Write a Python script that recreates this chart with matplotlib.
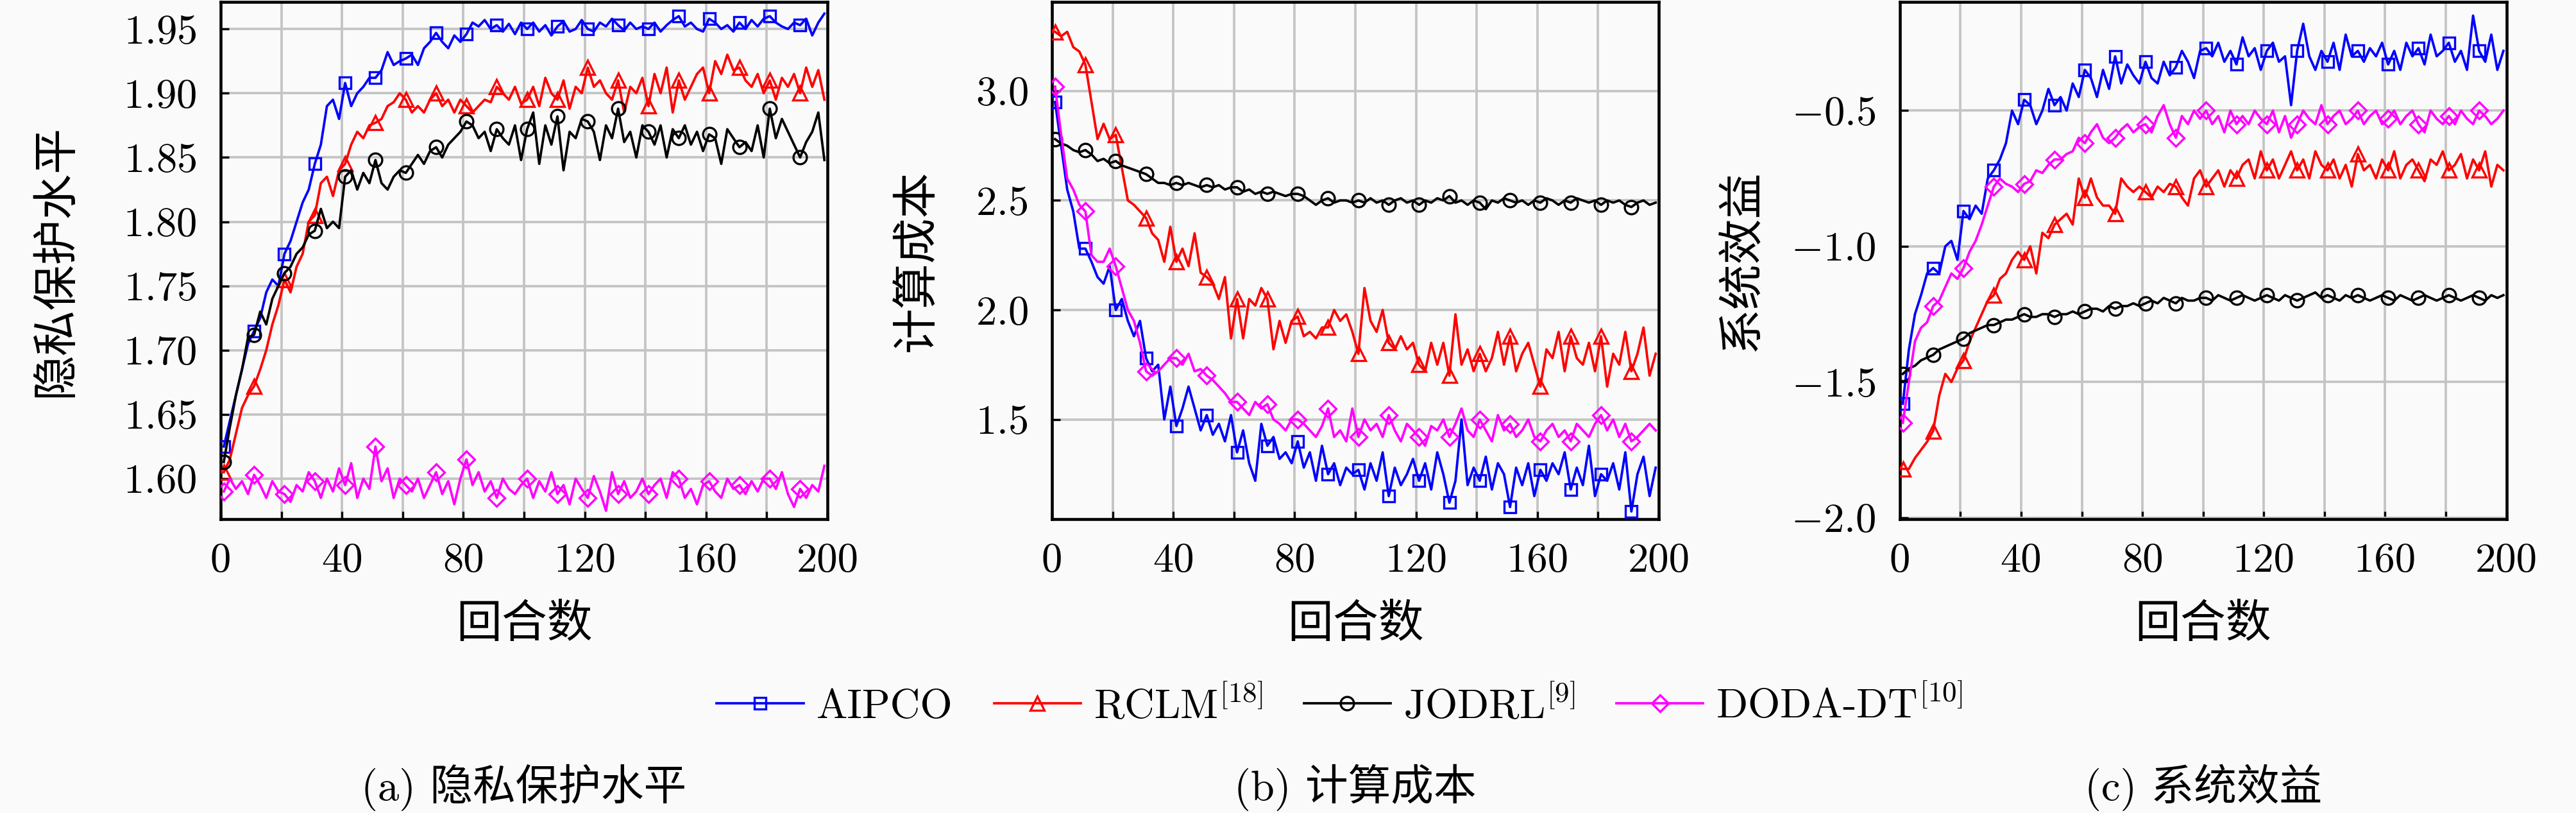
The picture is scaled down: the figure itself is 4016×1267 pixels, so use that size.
import numpy as np
import matplotlib
matplotlib.use("Agg")
import matplotlib.pyplot as plt
from matplotlib.ticker import FuncFormatter, MultipleLocator

plt.rcParams['font.family'] = ['cmr10', 'Noto Sans CJK SC']
plt.rcParams['mathtext.fontset'] = 'cm'
plt.rcParams['axes.formatter.use_mathtext'] = True
plt.rcParams['axes.unicode_minus'] = True

# episodes (every second episode, markers every 10)
episodes = np.arange(1, 201, 2)

methods = ['AIPCO', 'RCLM$^{[18]}$', 'JODRL$^{[9]}$', 'DODA-DT$^{[10]}$']

# (a) privacy protection level
privacy_aipco = [
    1.625, 1.645, 1.665, 1.685, 1.705, 1.715, 1.725, 1.745, 1.755, 1.750,
    1.775, 1.785, 1.800, 1.815, 1.825, 1.845, 1.860, 1.890, 1.895, 1.880,
    1.908, 1.890, 1.900, 1.905, 1.912, 1.912, 1.918, 1.932, 1.922, 1.925,
    1.927, 1.930, 1.922, 1.935, 1.940, 1.947, 1.940, 1.935, 1.945, 1.940,
    1.946, 1.955, 1.952, 1.957, 1.950, 1.953, 1.948, 1.954, 1.946, 1.955,
    1.950, 1.955, 1.948, 1.953, 1.945, 1.952, 1.956, 1.948, 1.950, 1.957,
    1.950, 1.948, 1.955, 1.952, 1.958, 1.953, 1.949, 1.955, 1.950, 1.952,
    1.950, 1.955, 1.948, 1.953, 1.957, 1.960, 1.952, 1.955, 1.950, 1.948,
    1.958, 1.955, 1.950, 1.953, 1.948, 1.955, 1.950, 1.957, 1.952, 1.958,
    1.960, 1.955, 1.952, 1.950, 1.955, 1.953, 1.958, 1.945, 1.955, 1.962]
privacy_rclm = [
    1.605, 1.615, 1.635, 1.655, 1.665, 1.672, 1.685, 1.700, 1.720, 1.735,
    1.755, 1.745, 1.765, 1.775, 1.800, 1.805, 1.830, 1.835, 1.820, 1.840,
    1.845, 1.860, 1.870, 1.865, 1.875, 1.877, 1.880, 1.890, 1.893, 1.900,
    1.895, 1.885, 1.890, 1.885, 1.895, 1.900, 1.890, 1.895, 1.885, 1.895,
    1.890, 1.885, 1.890, 1.895, 1.893, 1.905, 1.900, 1.895, 1.905, 1.892,
    1.895, 1.905, 1.890, 1.912, 1.900, 1.895, 1.910, 1.888, 1.905, 1.900,
    1.920, 1.905, 1.910, 1.900, 1.895, 1.910, 1.885, 1.905, 1.900, 1.912,
    1.890, 1.915, 1.900, 1.920, 1.885, 1.910, 1.895, 1.905, 1.915, 1.920,
    1.900, 1.925, 1.915, 1.930, 1.918, 1.920, 1.910, 1.905, 1.915, 1.900,
    1.910, 1.895, 1.912, 1.905, 1.915, 1.900, 1.920, 1.905, 1.918, 1.895]
privacy_jodrl = [
    1.613, 1.640, 1.665, 1.685, 1.710, 1.712, 1.730, 1.720, 1.740, 1.750,
    1.760, 1.765, 1.775, 1.780, 1.790, 1.793, 1.810, 1.795, 1.800, 1.795,
    1.835, 1.840, 1.825, 1.838, 1.830, 1.848, 1.830, 1.825, 1.835, 1.840,
    1.838, 1.845, 1.852, 1.845, 1.855, 1.858, 1.850, 1.860, 1.865, 1.870,
    1.878, 1.875, 1.865, 1.870, 1.855, 1.872, 1.865, 1.860, 1.875, 1.848,
    1.872, 1.885, 1.845, 1.875, 1.860, 1.882, 1.840, 1.870, 1.865, 1.880,
    1.878, 1.870, 1.848, 1.875, 1.865, 1.888, 1.862, 1.870, 1.850, 1.875,
    1.870, 1.860, 1.875, 1.850, 1.872, 1.865, 1.875, 1.860, 1.870, 1.855,
    1.868, 1.865, 1.845, 1.872, 1.865, 1.858, 1.862, 1.855, 1.875, 1.850,
    1.888, 1.865, 1.880, 1.870, 1.860, 1.850, 1.862, 1.870, 1.885, 1.848]
privacy_doda = [
    1.590, 1.600, 1.592, 1.598, 1.588, 1.603, 1.595, 1.585, 1.598, 1.590,
    1.588, 1.582, 1.595, 1.590, 1.605, 1.598, 1.585, 1.600, 1.590, 1.608,
    1.595, 1.612, 1.585, 1.600, 1.592, 1.625, 1.598, 1.608, 1.585, 1.600,
    1.595, 1.590, 1.600, 1.585, 1.595, 1.605, 1.588, 1.598, 1.580, 1.600,
    1.615, 1.595, 1.605, 1.590, 1.598, 1.585, 1.600, 1.592, 1.588, 1.595,
    1.600, 1.585, 1.598, 1.590, 1.605, 1.588, 1.595, 1.580, 1.600, 1.592,
    1.585, 1.602, 1.590, 1.575, 1.605, 1.588, 1.598, 1.585, 1.590, 1.600,
    1.588, 1.595, 1.600, 1.585, 1.605, 1.600, 1.585, 1.592, 1.580, 1.595,
    1.598, 1.590, 1.585, 1.600, 1.592, 1.595, 1.588, 1.598, 1.590, 1.600,
    1.600, 1.592, 1.605, 1.588, 1.578, 1.592, 1.585, 1.595, 1.590, 1.610]

# (b) computation cost
cost_aipco = [
    2.95, 2.75, 2.55, 2.45, 2.28, 2.28, 2.22, 2.15, 2.12, 2.20,
    2.00, 2.05, 1.95, 1.88, 1.95, 1.78, 1.72, 1.75, 1.50, 1.65,
    1.47, 1.55, 1.65, 1.55, 1.45, 1.52, 1.43, 1.48, 1.40, 1.52,
    1.35, 1.45, 1.30, 1.22, 1.48, 1.38, 1.42, 1.32, 1.35, 1.30,
    1.40, 1.28, 1.35, 1.22, 1.38, 1.25, 1.30, 1.20, 1.28, 1.25,
    1.27, 1.18, 1.30, 1.22, 1.35, 1.15, 1.28, 1.20, 1.25, 1.32,
    1.22, 1.30, 1.18, 1.35, 1.25, 1.12, 1.22, 1.50, 1.20, 1.28,
    1.22, 1.33, 1.18, 1.30, 1.25, 1.10, 1.28, 1.20, 1.30, 1.15,
    1.27, 1.22, 1.30, 1.25, 1.35, 1.18, 1.28, 1.20, 1.38, 1.15,
    1.25, 1.22, 1.30, 1.18, 1.35, 1.08, 1.25, 1.33, 1.15, 1.28]
cost_rclm = [
    3.27, 3.25, 3.27, 3.20, 3.18, 3.12, 2.95, 2.78, 2.85, 2.78,
    2.80, 2.65, 2.50, 2.48, 2.45, 2.42, 2.35, 2.32, 2.22, 2.38,
    2.22, 2.28, 2.20, 2.35, 2.17, 2.15, 2.12, 2.05, 2.15, 1.87,
    2.05, 1.87, 2.05, 2.02, 2.10, 2.05, 1.82, 1.95, 1.85, 1.95,
    1.97, 1.88, 1.90, 1.87, 1.92, 1.92, 2.00, 1.95, 1.98, 1.90,
    1.80, 2.10, 1.95, 1.90, 2.00, 1.85, 1.82, 1.88, 1.82, 1.85,
    1.75, 1.72, 1.85, 1.75, 1.85, 1.70, 1.98, 1.75, 1.82, 1.72,
    1.80, 1.72, 1.78, 1.90, 1.75, 1.88, 1.72, 1.80, 1.85, 1.75,
    1.65, 1.82, 1.78, 1.90, 1.72, 1.88, 1.78, 1.75, 1.85, 1.72,
    1.88, 1.65, 1.80, 1.75, 1.90, 1.72, 1.80, 1.92, 1.70, 1.80]
cost_jodrl = [
    2.78, 2.76, 2.75, 2.73, 2.72, 2.73, 2.71, 2.68, 2.69, 2.67,
    2.68, 2.66, 2.65, 2.64, 2.63, 2.62, 2.60, 2.58, 2.58, 2.57,
    2.58, 2.57, 2.58, 2.57, 2.56, 2.57, 2.56, 2.57, 2.55, 2.56,
    2.56, 2.54, 2.55, 2.53, 2.54, 2.53, 2.54, 2.53, 2.52, 2.53,
    2.53, 2.52, 2.50, 2.48, 2.50, 2.51, 2.49, 2.50, 2.50, 2.49,
    2.50, 2.49, 2.51, 2.49, 2.50, 2.48, 2.50, 2.51, 2.49, 2.50,
    2.48, 2.50, 2.49, 2.51, 2.50, 2.52, 2.49, 2.50, 2.48, 2.50,
    2.49, 2.46, 2.50, 2.49, 2.51, 2.50, 2.49, 2.50, 2.48, 2.50,
    2.49, 2.51, 2.50, 2.48, 2.50, 2.49, 2.51, 2.50, 2.49, 2.50,
    2.48, 2.50, 2.49, 2.50, 2.48, 2.47, 2.49, 2.50, 2.48, 2.49]
cost_doda = [
    3.02, 2.80, 2.60, 2.55, 2.48, 2.45, 2.25, 2.22, 2.22, 2.28,
    2.20, 2.10, 2.00, 1.95, 1.85, 1.72, 1.70, 1.72, 1.75, 1.78,
    1.78, 1.75, 1.80, 1.72, 1.73, 1.70, 1.68, 1.65, 1.62, 1.58,
    1.58, 1.55, 1.52, 1.58, 1.55, 1.57, 1.50, 1.48, 1.45, 1.50,
    1.50, 1.48, 1.45, 1.42, 1.47, 1.55, 1.42, 1.45, 1.40, 1.55,
    1.42, 1.50, 1.45, 1.48, 1.42, 1.52, 1.45, 1.40, 1.48, 1.45,
    1.42, 1.38, 1.47, 1.45, 1.50, 1.42, 1.48, 1.55, 1.45, 1.42,
    1.50, 1.45, 1.40, 1.52, 1.45, 1.48, 1.42, 1.45, 1.50, 1.42,
    1.40, 1.45, 1.48, 1.42, 1.45, 1.40, 1.48, 1.45, 1.42, 1.48,
    1.52, 1.45, 1.50, 1.42, 1.48, 1.40, 1.42, 1.45, 1.48, 1.45]

# (c) system benefit
benefit_aipco = [
    -1.58, -1.38, -1.25, -1.18, -1.10, -1.08, -1.10, -1.00, -0.98, -1.05,
    -0.87, -0.90, -0.85, -0.88, -0.75, -0.72, -0.68, -0.62, -0.50, -0.55,
    -0.46, -0.48, -0.55, -0.50, -0.42, -0.48, -0.45, -0.50, -0.40, -0.45,
    -0.35, -0.38, -0.45, -0.35, -0.42, -0.30, -0.40, -0.33, -0.37, -0.40,
    -0.32, -0.38, -0.40, -0.32, -0.37, -0.34, -0.28, -0.32, -0.38, -0.28,
    -0.27, -0.30, -0.25, -0.32, -0.28, -0.33, -0.23, -0.30, -0.27, -0.35,
    -0.28, -0.25, -0.32, -0.30, -0.48, -0.28, -0.18, -0.30, -0.35, -0.28,
    -0.32, -0.25, -0.35, -0.22, -0.30, -0.28, -0.32, -0.27, -0.30, -0.25,
    -0.33, -0.28, -0.35, -0.25, -0.30, -0.27, -0.33, -0.22, -0.30, -0.28,
    -0.25, -0.32, -0.28, -0.35, -0.15, -0.28, -0.32, -0.22, -0.35, -0.28]
benefit_rclm = [
    -1.82, -1.82, -1.78, -1.75, -1.72, -1.68, -1.55, -1.47, -1.50, -1.45,
    -1.42, -1.35, -1.30, -1.25, -1.20, -1.18, -1.12, -1.10, -1.05, -1.02,
    -1.05, -1.00, -1.10, -0.95, -0.97, -0.92, -0.90, -0.88, -0.92, -0.75,
    -0.82, -0.75, -0.82, -0.85, -0.85, -0.88, -0.75, -0.78, -0.80, -0.78,
    -0.80, -0.82, -0.78, -0.80, -0.77, -0.78, -0.82, -0.85, -0.75, -0.72,
    -0.78, -0.75, -0.72, -0.78, -0.72, -0.75, -0.70, -0.68, -0.75, -0.65,
    -0.72, -0.68, -0.75, -0.70, -0.65, -0.72, -0.68, -0.75, -0.65, -0.70,
    -0.72, -0.68, -0.75, -0.70, -0.78, -0.66, -0.72, -0.70, -0.75, -0.68,
    -0.72, -0.65, -0.75, -0.70, -0.68, -0.72, -0.76, -0.68, -0.70, -0.65,
    -0.72, -0.70, -0.66, -0.75, -0.68, -0.72, -0.65, -0.78, -0.70, -0.72]
benefit_jodrl = [
    -1.47, -1.45, -1.44, -1.42, -1.41, -1.40, -1.38, -1.37, -1.36, -1.35,
    -1.34, -1.32, -1.31, -1.30, -1.29, -1.29, -1.28, -1.27, -1.27, -1.26,
    -1.25, -1.26, -1.26, -1.25, -1.25, -1.26, -1.25, -1.25, -1.24, -1.25,
    -1.24, -1.23, -1.23, -1.24, -1.22, -1.23, -1.22, -1.22, -1.21, -1.22,
    -1.21, -1.20, -1.21, -1.19, -1.20, -1.21, -1.19, -1.20, -1.20, -1.19,
    -1.19, -1.20, -1.18, -1.19, -1.20, -1.19, -1.18, -1.19, -1.20, -1.19,
    -1.18, -1.19, -1.20, -1.18, -1.19, -1.20, -1.19, -1.18, -1.17, -1.19,
    -1.18, -1.19, -1.20, -1.18, -1.19, -1.18, -1.19, -1.20, -1.19, -1.18,
    -1.19, -1.20, -1.18, -1.19, -1.20, -1.19, -1.18, -1.19, -1.20, -1.19,
    -1.18, -1.19, -1.20, -1.19, -1.18, -1.19, -1.20, -1.18, -1.19, -1.18]
benefit_doda = [
    -1.65, -1.50, -1.35, -1.30, -1.28, -1.22, -1.20, -1.15, -1.10, -1.12,
    -1.08, -1.02, -0.98, -0.92, -0.85, -0.78, -0.75, -0.77, -0.78, -0.80,
    -0.77, -0.76, -0.72, -0.73, -0.70, -0.68, -0.68, -0.66, -0.65, -0.60,
    -0.62, -0.58, -0.55, -0.60, -0.62, -0.60, -0.57, -0.55, -0.58, -0.56,
    -0.55, -0.58, -0.52, -0.48, -0.55, -0.60, -0.52, -0.55, -0.50, -0.53,
    -0.50, -0.55, -0.52, -0.58, -0.50, -0.55, -0.52, -0.55, -0.50, -0.53,
    -0.55, -0.50, -0.58, -0.52, -0.60, -0.55, -0.50, -0.53, -0.55, -0.48,
    -0.55, -0.52, -0.50, -0.55, -0.53, -0.50, -0.55, -0.52, -0.50, -0.55,
    -0.53, -0.50, -0.55, -0.52, -0.50, -0.55, -0.58, -0.50, -0.53, -0.55,
    -0.52, -0.55, -0.50, -0.53, -0.55, -0.50, -0.52, -0.55, -0.53, -0.50]

colors = ['#0000ff', '#ff0000', '#000000', '#ff00ff']
markers = ['s', '^', 'o', 'D']
msizes = [4.5, 5.5, 5.0, 4.5]

panels = [
    ([privacy_aipco, privacy_rclm, privacy_jodrl, privacy_doda], '隐私保护水平',
     (1.5685, 1.971), np.arange(1.60, 1.951, 0.05), '{:.2f}', '(a) 隐私保护水平'),
    ([cost_aipco, cost_rclm, cost_jodrl, cost_doda], '计算成本',
     (1.045, 3.406), [1.5, 2.0, 2.5, 3.0], '{:.1f}', '(b) 计算成本'),
    ([benefit_aipco, benefit_rclm, benefit_jodrl, benefit_doda], '系统效益',
     (-2.005, -0.1), [-2.0, -1.5, -1.0, -0.5], '{:.1f}', '(c) 系统效益'),
]
lefts = [0.0857, 0.4084, 0.7375]
ylabel_x = [-0.237, -0.187, -0.224]

W, H = 4016, 1267
fig = plt.figure(figsize=(W / 300, H / 300), dpi=300, facecolor='#fafafa')

for left, lx, (series, ylab, ylim, yticks, fmt, cap) in zip(lefts, ylabel_x, panels):
    ax = fig.add_axes([left, 0.3615, 0.2355, 0.636])
    ax.set_facecolor('#fafafa')
    for vals, c, m, ms, lab in zip(series, colors, markers, msizes, methods):
        ax.plot(episodes, vals, color=c, lw=0.9, marker=m, markersize=ms,
                markerfacecolor='none', markeredgewidth=0.8, markevery=5,
                label=lab, zorder=3)
    ax.set_xlim(0, 200)
    ax.set_ylim(*ylim)
    ax.xaxis.set_major_locator(MultipleLocator(20))
    ax.xaxis.set_major_formatter(FuncFormatter(
        lambda v, p: f'{int(round(v))}' if int(round(v)) % 40 == 0 else ''))
    ax.set_yticks(yticks)
    ax.yaxis.set_major_formatter(FuncFormatter(
        lambda v, p, f=fmt: '$' + f.format(v) + '$'))
    ax.grid(True, color='#c4c4c4', lw=0.9, ls='-')
    ax.set_axisbelow(True)
    ax.tick_params(direction='in', length=3, width=0.8, labelsize=15.5, pad=9)
    for s in ax.spines.values():
        s.set_linewidth(1.1)
    ax.set_ylabel(ylab, fontsize=17, fontweight='light')
    ax.yaxis.set_label_coords(lx, 0.5)
    ax.set_xlabel('回合数', fontsize=17, fontweight='light')
    ax.xaxis.set_label_coords(0.5, -0.164)
    fig.text(left + 0.2355 / 2, 0.031, cap, fontsize=16, fontweight='light',
             ha='center', va='center')

handles, labels = ax.get_legend_handles_labels()
fig.legend(handles, labels, loc='center', bbox_to_anchor=(0.52, 0.132), ncol=4,
           frameon=False, fontsize=15.5, handlelength=2.1, columnspacing=1.0,
           handletextpad=0.3)

fig.savefig('out.png', dpi=300, facecolor=fig.get_facecolor())
